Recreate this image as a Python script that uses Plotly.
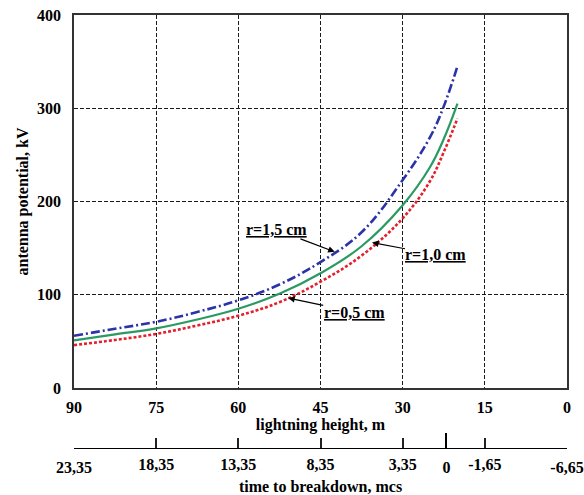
import plotly.graph_objects as go

# lightning height, m
height = [90, 82.5, 75, 67.5, 60, 52.5, 45, 37.5, 30, 25, 22.5, 20]
# antenna potential, kV
r15 = [56, 63.5, 71, 81.5, 94, 111, 135, 167, 223, 269, 302, 345]
r10 = [51, 57.5, 64, 73.5, 85, 101, 123, 152, 196, 237, 267, 305]
r05 = [46, 51.5, 58, 67, 77.5, 92, 114, 142, 182, 222, 253, 289]

x_ticks = [90, 75, 60, 45, 30, 15, 0]
y_ticks = [0, 100, 200, 300, 400]
# time to breakdown ticks (placed on the height scale)
t_major_pos = [90, 22, 0]
t_major_txt = ["23,35", "0", "-6,65"]
t_minor_pos = [75, 60, 45, 30, 15]
t_minor_txt = ["18,35", "13,35", "8,35", "3,35", "-1,65"]

FONT = "Liberation Serif"
tf = dict(family=FONT, size=16, color="black", weight="bold")

fig = go.Figure()
fig.add_trace(go.Scatter(x=height, y=r15, mode="lines", line=dict(color="#2b33a8", width=2.6, dash="9px,3px,2px,3px", shape="spline", smoothing=1.1), showlegend=False, hoverinfo="skip"))
fig.add_trace(go.Scatter(x=height, y=r10, mode="lines", line=dict(color="#2b9a62", width=2.2, shape="spline", smoothing=1.1), showlegend=False, hoverinfo="skip"))
fig.add_trace(go.Scatter(x=height, y=r05, mode="lines", line=dict(color="#e3202c", width=2.6, dash="3px,2px", shape="spline", smoothing=1.1), showlegend=False, hoverinfo="skip"))
# carriers for the time axes
fig.add_trace(go.Scatter(x=[90, 0], y=[0, 0], xaxis="x2", yaxis="y", mode="markers", marker=dict(opacity=0), showlegend=False, hoverinfo="skip"))
fig.add_trace(go.Scatter(x=[90, 0], y=[0, 0], xaxis="x3", yaxis="y", mode="markers", marker=dict(opacity=0), showlegend=False, hoverinfo="skip"))

grid = dict(showgrid=True, gridcolor="#1a1a1a", gridwidth=1.2, griddash="4px,2px")
ydom0 = (448 - 388) / 433

fig.update_layout(
    width=584, height=495,
    margin=dict(l=74, r=17, t=15, b=47, autoexpand=False),
    paper_bgcolor="white", plot_bgcolor="white",
    font=dict(family=FONT, size=16, color="black"),
    xaxis=dict(range=[90, 0], tickvals=x_ticks, ticktext=[str(v) for v in x_ticks], tickfont=tf,
               showline=True, linecolor="#333", linewidth=1.8, mirror=True, zeroline=False,
               ticks="", ticklabelstandoff=4, anchor="y", automargin=False,
               title=dict(text="lightning height, m", font=tf, standoff=0), **grid),
    yaxis=dict(range=[0, 400], tickvals=y_ticks, tickfont=tf, domain=[ydom0, 1],
               showline=True, linecolor="#333", linewidth=1.8, mirror=True, zeroline=False,
               ticks="", ticklabelstandoff=8, automargin=False,
               title=dict(text="antenna potential, kV", font=tf, standoff=4), **grid),
    xaxis2=dict(range=[90, 0], overlaying="x", anchor="free", position=0, side="bottom",
                tickvals=t_major_pos, ticktext=t_major_txt, tickfont=tf, automargin=False,
                ticks="inside", ticklen=15, tickwidth=1.6, tickcolor="black",
                showline=True, linecolor="black", linewidth=1.4, showgrid=False, zeroline=False,
                ticklabelstandoff=5,
                title=dict(text="time to breakdown, mcs", font=tf, standoff=6)),
    xaxis3=dict(range=[90, 0], overlaying="x", anchor="free", position=0, side="bottom",
                tickvals=t_minor_pos, ticktext=t_minor_txt, tickfont=tf, automargin=False,
                ticks="inside", ticklen=10, tickwidth=1.6, tickcolor="#222",
                showline=False, showgrid=False, zeroline=False, ticklabelstandoff=5),
)

ann_font = dict(family=FONT, size=16, color="black", weight="bold")
for txt, hx, hy, ax, ay in [
    ("r=1,5 cm", 42.4, 146, -58, -22),
    ("r=1,0 cm", 35.6, 156, 64, 12),
    ("r=0,5 cm", 50.9, 96.5, 66, 14),
]:
    fig.add_annotation(x=hx, y=hy, xref="x", yref="y", text="<u>" + txt + "</u>", font=ann_font,
                       showarrow=True, ax=ax, ay=ay, arrowhead=2, arrowsize=1.1, arrowwidth=1.2,
                       arrowcolor="black", bgcolor="white", borderpad=0)

fig.write_html("out.html", config={"displayModeBar": False},
               post_script="document.body.style.margin='0';document.body.style.overflow='hidden';")
